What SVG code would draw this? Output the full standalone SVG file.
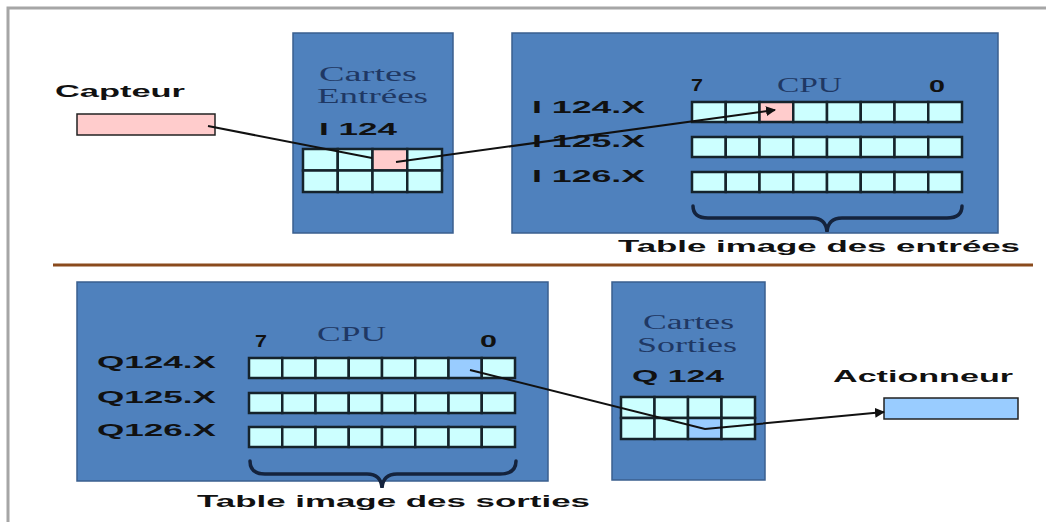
<svg xmlns="http://www.w3.org/2000/svg" width="1046" height="522" viewBox="0 0 1046 522">
<style>
.bx{fill:#4f81bd;stroke:#3a5f8f;stroke-width:1.5}
.c{fill:#ccffff;stroke:#15232b;stroke-width:2.5}
.p{fill:#ffcccc;stroke:#15232b;stroke-width:2.5}
.q{fill:#99ccff;stroke:#15232b;stroke-width:2.5}
.lb{font-family:"Liberation Sans",Arial,sans-serif;font-weight:bold;fill:#111;font-size:17px}
.sf{font-family:"Liberation Serif","Times New Roman",serif;fill:#1f3864;font-size:20px}
.br{fill:none;stroke:#14233d;stroke-width:3.5;stroke-linecap:round}
.cn{fill:none;stroke:#111;stroke-width:2}
</style>
<defs>
<marker id="ah" viewBox="0 0 10 10" refX="9" refY="5" markerWidth="5" markerHeight="5" orient="auto" markerUnits="strokeWidth">
<path d="M0,0 L10,5 L0,10 z" fill="#111"/>
</marker>
</defs>
<rect width="1046" height="522" fill="#fff"/>
<g id="frame">
<path d="M8,522 L8,8 L1046,8" fill="none" stroke="#a6a6a6" stroke-width="3"/>
<line x1="53" y1="265" x2="1033" y2="265" stroke="#8a4a1c" stroke-width="3"/>
</g>
<g id="capteur">
<text class="lb" x="55" y="97" textLength="130" lengthAdjust="spacingAndGlyphs">Capteur</text>
<rect x="77" y="114" width="138" height="21" fill="#ffcccc" stroke="#222" stroke-width="1.5"/>
</g>
<g id="cartes-entrees">
<rect class="bx" x="293" y="33" width="160" height="200"/>
<text class="sf" x="319" y="81" textLength="98" lengthAdjust="spacingAndGlyphs">Cartes</text>
<text class="sf" x="317" y="103" textLength="111" lengthAdjust="spacingAndGlyphs">Entrées</text>
<text class="lb" x="319" y="135" textLength="78" lengthAdjust="spacingAndGlyphs">I 124</text>
<rect class="c" x="303" y="149" width="34.75" height="21.5"/>
<rect class="c" x="337.75" y="149" width="34.75" height="21.5"/>
<rect class="p" x="372.5" y="149" width="34.75" height="21.5"/>
<rect class="c" x="407.25" y="149" width="34.75" height="21.5"/>
<rect class="c" x="303" y="170.5" width="34.75" height="21.5"/>
<rect class="c" x="337.75" y="170.5" width="34.75" height="21.5"/>
<rect class="c" x="372.5" y="170.5" width="34.75" height="21.5"/>
<rect class="c" x="407.25" y="170.5" width="34.75" height="21.5"/>
</g>
<g id="cpu-entrees">
<rect class="bx" x="512" y="33" width="486" height="200"/>
<text class="lb" x="691" y="91" textLength="12" lengthAdjust="spacingAndGlyphs">7</text>
<text class="sf" x="777" y="92" textLength="65" lengthAdjust="spacingAndGlyphs">CPU</text>
<text class="lb" x="929" y="92" textLength="16" lengthAdjust="spacingAndGlyphs">0</text>
<text class="lb" x="532" y="113" textLength="113" lengthAdjust="spacingAndGlyphs">I 124.X</text>
<text class="lb" x="532" y="147" textLength="113" lengthAdjust="spacingAndGlyphs">I 125.X</text>
<text class="lb" x="532" y="182" textLength="113" lengthAdjust="spacingAndGlyphs">I 126.X</text>
<g>
<rect class="c" x="692" y="102" width="33.75" height="20"/>
<rect class="c" x="725.75" y="102" width="33.75" height="20"/>
<rect class="p" x="759.5" y="102" width="33.75" height="20"/>
<rect class="c" x="793.25" y="102" width="33.75" height="20"/>
<rect class="c" x="827" y="102" width="33.75" height="20"/>
<rect class="c" x="860.75" y="102" width="33.75" height="20"/>
<rect class="c" x="894.5" y="102" width="33.75" height="20"/>
<rect class="c" x="928.25" y="102" width="33.75" height="20"/>
</g>
<g>
<rect class="c" x="692" y="137" width="33.75" height="20"/>
<rect class="c" x="725.75" y="137" width="33.75" height="20"/>
<rect class="c" x="759.5" y="137" width="33.75" height="20"/>
<rect class="c" x="793.25" y="137" width="33.75" height="20"/>
<rect class="c" x="827" y="137" width="33.75" height="20"/>
<rect class="c" x="860.75" y="137" width="33.75" height="20"/>
<rect class="c" x="894.5" y="137" width="33.75" height="20"/>
<rect class="c" x="928.25" y="137" width="33.75" height="20"/>
</g>
<g>
<rect class="c" x="692" y="172" width="33.75" height="20"/>
<rect class="c" x="725.75" y="172" width="33.75" height="20"/>
<rect class="c" x="759.5" y="172" width="33.75" height="20"/>
<rect class="c" x="793.25" y="172" width="33.75" height="20"/>
<rect class="c" x="827" y="172" width="33.75" height="20"/>
<rect class="c" x="860.75" y="172" width="33.75" height="20"/>
<rect class="c" x="894.5" y="172" width="33.75" height="20"/>
<rect class="c" x="928.25" y="172" width="33.75" height="20"/>
</g>
<path class="br" d="M693,206 Q693,218 708,218 L812,218 Q826,218 827,232 Q828,218 842,218 L947,218 Q962,218 962,206"/>
<text class="lb" x="618" y="252" textLength="402" lengthAdjust="spacingAndGlyphs">Table image des entrées</text>
</g>
<g id="cpu-sorties">
<rect class="bx" x="77" y="282" width="471" height="199"/>
<text class="lb" x="255" y="347" textLength="12" lengthAdjust="spacingAndGlyphs">7</text>
<text class="sf" x="317" y="341" textLength="69" lengthAdjust="spacingAndGlyphs">CPU</text>
<text class="lb" x="480" y="347" textLength="17" lengthAdjust="spacingAndGlyphs">0</text>
<text class="lb" x="97" y="368" textLength="119" lengthAdjust="spacingAndGlyphs">Q124.X</text>
<text class="lb" x="97" y="403" textLength="119" lengthAdjust="spacingAndGlyphs">Q125.X</text>
<text class="lb" x="97" y="436" textLength="119" lengthAdjust="spacingAndGlyphs">Q126.X</text>
<g>
<rect class="c" x="249" y="358" width="33.25" height="20"/>
<rect class="c" x="282.25" y="358" width="33.25" height="20"/>
<rect class="c" x="315.5" y="358" width="33.25" height="20"/>
<rect class="c" x="348.75" y="358" width="33.25" height="20"/>
<rect class="c" x="382" y="358" width="33.25" height="20"/>
<rect class="c" x="415.25" y="358" width="33.25" height="20"/>
<rect class="q" x="448.5" y="358" width="33.25" height="20"/>
<rect class="c" x="481.75" y="358" width="33.25" height="20"/>
</g>
<g>
<rect class="c" x="249" y="393" width="33.25" height="20"/>
<rect class="c" x="282.25" y="393" width="33.25" height="20"/>
<rect class="c" x="315.5" y="393" width="33.25" height="20"/>
<rect class="c" x="348.75" y="393" width="33.25" height="20"/>
<rect class="c" x="382" y="393" width="33.25" height="20"/>
<rect class="c" x="415.25" y="393" width="33.25" height="20"/>
<rect class="c" x="448.5" y="393" width="33.25" height="20"/>
<rect class="c" x="481.75" y="393" width="33.25" height="20"/>
</g>
<g>
<rect class="c" x="249" y="427" width="33.25" height="20"/>
<rect class="c" x="282.25" y="427" width="33.25" height="20"/>
<rect class="c" x="315.5" y="427" width="33.25" height="20"/>
<rect class="c" x="348.75" y="427" width="33.25" height="20"/>
<rect class="c" x="382" y="427" width="33.25" height="20"/>
<rect class="c" x="415.25" y="427" width="33.25" height="20"/>
<rect class="c" x="448.5" y="427" width="33.25" height="20"/>
<rect class="c" x="481.75" y="427" width="33.25" height="20"/>
</g>
<path class="br" d="M250,461 Q250,474 265,474 L367,474 Q381,474 382,488 Q383,474 397,474 L500,474 Q516,474 516,461"/>
<text class="lb" x="197" y="507" textLength="393" lengthAdjust="spacingAndGlyphs">Table image des sorties</text>
</g>
<g id="cartes-sorties">
<rect class="bx" x="612" y="282" width="153" height="198"/>
<text class="sf" x="643" y="329" textLength="91" lengthAdjust="spacingAndGlyphs">Cartes</text>
<text class="sf" x="637" y="352" textLength="100" lengthAdjust="spacingAndGlyphs">Sorties</text>
<text class="lb" x="632" y="382" textLength="92" lengthAdjust="spacingAndGlyphs">Q 124</text>
<rect class="c" x="621" y="397" width="33.5" height="21"/>
<rect class="c" x="654.5" y="397" width="33.5" height="21"/>
<rect class="c" x="688" y="397" width="33.5" height="21"/>
<rect class="c" x="721.5" y="397" width="33.5" height="21"/>
<rect class="c" x="621" y="418" width="33.5" height="21"/>
<rect class="c" x="654.5" y="418" width="33.5" height="21"/>
<rect class="q" x="688" y="418" width="33.5" height="21"/>
<rect class="c" x="721.5" y="418" width="33.5" height="21"/>
</g>
<g id="actionneur">
<text class="lb" x="833" y="382" textLength="180" lengthAdjust="spacingAndGlyphs">Actionneur</text>
<rect x="884" y="398" width="134" height="21" fill="#99ccff" stroke="#222" stroke-width="1.5"/>
</g>
<g id="connectors">
<path class="cn" d="M208,126 L372,158"/>
<path class="cn" d="M396,162 L775,110" marker-end="url(#ah)"/>
<path class="cn" d="M470,370 L705,429 L884,412" marker-end="url(#ah)"/>
</g>
</svg>
